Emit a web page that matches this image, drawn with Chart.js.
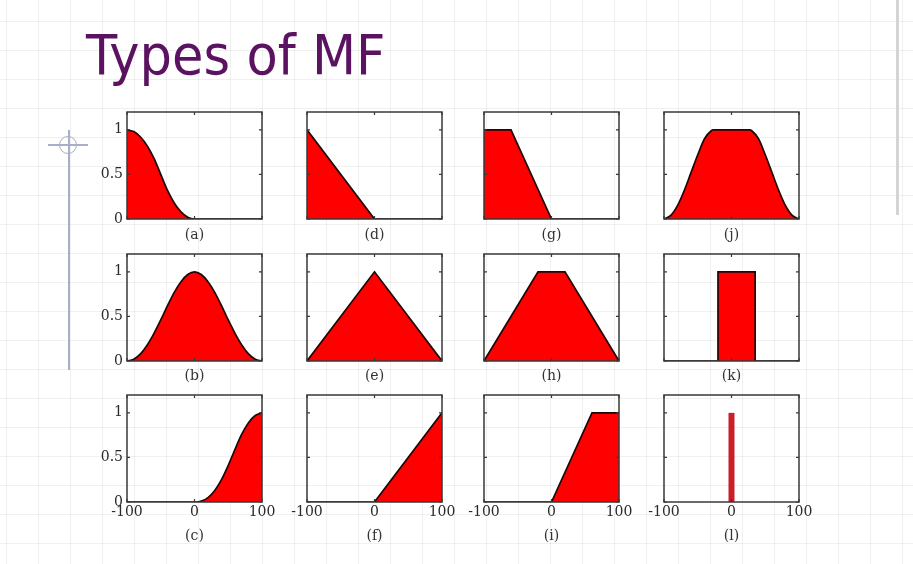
<!DOCTYPE html>
<html>
<head>
<meta charset="utf-8">
<script src="https://cdn.jsdelivr.net/npm/chart.js@4.4.6/dist/chart.umd.min.js"></script>
<style>
html, body { margin: 0; padding: 0; }
body {
  width: 913px; height: 564px; position: relative; overflow: hidden;
  background-color: #fff;
  background-image:
    linear-gradient(to right, rgba(0,0,0,0.06) 1px, transparent 1px),
    linear-gradient(to bottom, rgba(0,0,0,0.06) 1px, transparent 1px);
  background-size: 32px 29px;
  background-position: 6px 21px;
}
#title {
  position: absolute; left: 86px; top: 28px;
  font: 55px "DejaVu Sans"; line-height: 1; color: #5b1361;
  transform: scaleX(0.93); transform-origin: 0 0; white-space: nowrap;
}
.panel { position: absolute; }
.deco { position: absolute; background: #a7b0c8; }
#ring { position: absolute; left: 59px; top: 136px; width: 16px; height: 16px;
  border: 1.5px solid #a7b0c8; border-radius: 50%; }
</style>
</head>
<body>
<div id="title">Types of MF</div>
<div class="deco" style="left:48px;top:144px;width:40px;height:1.5px"></div>
<div class="deco" style="left:68px;top:130px;width:1.5px;height:240px"></div>
<div id="ring"></div>
<div class="deco" style="left:896px;top:0;width:3px;height:215px;background:#d4d4d4"></div>
<script>
// axis ticks shared by every panel
const X_TICKS = [-100, 0, 100];
const Y_TICKS = [0, 0.5, 1];

// membership functions, [x, mu]
const mfA = [[-100,1],[-90,0.98],[-80,0.92],[-70,0.82],[-60,0.68],[-50,0.5],[-40,0.32],[-30,0.18],[-20,0.08],[-10,0.02],[0,0],[100,0]];
const mfB = [[-100,0],[-90,0.02],[-80,0.08],[-70,0.18],[-60,0.31],[-50,0.46],[-40,0.62],[-30,0.77],[-20,0.89],[-10,0.97],[0,1],
             [10,0.97],[20,0.89],[30,0.77],[40,0.62],[50,0.46],[60,0.31],[70,0.18],[80,0.08],[90,0.02],[100,0]];
const mfC = [[-100,0],[2,0],[10,0.01],[20,0.05],[30,0.13],[40,0.25],[50,0.41],[55,0.5],[60,0.59],[70,0.76],[80,0.89],[90,0.97],[100,1]];
const mfD = [[-100,1],[0,0],[100,0]];
const mfE = [[-100,0],[0,1],[100,0]];
const mfF = [[-100,0],[0,0],[100,1]];
const mfG = [[-100,1],[-60,1],[0,0],[100,0]];
const mfH = [[-100,0],[-20,1],[20,1],[100,0]];
const mfI = [[-100,0],[0,0],[60,1],[100,1]];
const mfJ = [[-100,0],[-90,0.04],[-80,0.15],[-70,0.32],[-60,0.52],[-50,0.72],[-40,0.9],[-30,0.99],[-27,1],
             [27,1],[30,0.99],[40,0.9],[50,0.72],[60,0.52],[70,0.32],[80,0.15],[90,0.04],[100,0]];
const mfK = [[-100,0],[-20,0],[-20,1],[35,1],[35,0],[100,0]];
const mfL = [[0,0],[0,1]];

// grid of panels, row by row
const PANELS = [
  [{label:'(a)', data:mfA, smooth:true}, {label:'(d)', data:mfD}, {label:'(g)', data:mfG}, {label:'(j)', data:mfJ, smooth:true}],
  [{label:'(b)', data:mfB, smooth:true}, {label:'(e)', data:mfE}, {label:'(h)', data:mfH}, {label:'(k)', data:mfK}],
  [{label:'(c)', data:mfC, smooth:true}, {label:'(f)', data:mfF}, {label:'(i)', data:mfI}, {label:'(l)', data:mfL, spike:true}]
];

// where the plot boxes sit on the slide
const COL_LEFT = [127, 307, 484, 664];
const ROW_TOP = [112, 254, 395];
const LABEL_GAP = [16, 15, 34];
const PW = 135, PH = 107, PADL = 40, PADT = 16, PADR = 20, XH = 45;

const framePlugin = {
  id: 'frame',
  afterDatasetsDraw(chart){
    const {ctx, chartArea:a, scales:{x, y}} = chart;
    ctx.save();
    ctx.strokeStyle = '#383838';
    ctx.lineWidth = 1.5;
    ctx.strokeRect(a.left, a.top, a.right - a.left, a.bottom - a.top);
    ctx.lineWidth = 1.2;
    ctx.beginPath();
    X_TICKS.forEach(v => {
      const px = x.getPixelForValue(v);
      ctx.moveTo(px, a.top); ctx.lineTo(px, a.top + 3);
      ctx.moveTo(px, a.bottom); ctx.lineTo(px, a.bottom - 3);
    });
    Y_TICKS.forEach(v => {
      const py = y.getPixelForValue(v);
      ctx.moveTo(a.left, py); ctx.lineTo(a.left + 3, py);
      ctx.moveTo(a.right, py); ctx.lineTo(a.right - 3, py);
    });
    ctx.stroke();
    ctx.restore();
  }
};

const tickFont = {family:'DejaVu Serif', size:14};

function makePanel(p, row, col){
  const box = document.createElement('div');
  box.className = 'panel';
  box.style.left = (COL_LEFT[col] - PADL) + 'px';
  box.style.top = (ROW_TOP[row] - PADT) + 'px';
  const cv = document.createElement('canvas');
  cv.width = PADL + PW + PADR;
  cv.height = PADT + PH + XH;
  box.appendChild(cv);
  document.body.appendChild(box);

  const ds = {
    data: p.data.map(([x, y]) => ({x, y})),
    pointRadius: 0,
    tension: 0,
    cubicInterpolationMode: p.smooth ? 'monotone' : 'default',
    fill: p.spike ? false : 'origin',
    backgroundColor: '#ff0000',
    borderColor: p.spike ? '#c91f2b' : '#1c0808',
    borderWidth: p.spike ? 6 : 1.7,
    borderCapStyle: 'butt'
  };

  new Chart(cv, {
    type: 'line',
    data: {datasets: [ds]},
    options: {
      responsive: false,
      animation: false,
      devicePixelRatio: 1,
      layout: {padding: {left: 0, top: PADT, right: PADR, bottom: 0}},
      plugins: {legend: {display: false}, tooltip: {enabled: false}},
      scales: {
        x: {
          type: 'linear', min: -100, max: 100,
          afterBuildTicks: s => { s.ticks = X_TICKS.map(v => ({value: v})); },
          afterFit: s => { s.height = XH; },
          grid: {display: false, drawTicks: false},
          border: {display: false},
          ticks: {display: row === 2, font: tickFont, color: '#2a2a2a', padding: 2, maxRotation: 0, autoSkip: false,
                  callback: v => String(v)},
          title: {display: true, text: p.label, color: '#333',
                  font: {family: 'DejaVu Serif', size: 14},
                  padding: {top: 0, bottom: XH - LABEL_GAP[row] - 8.4}}
        },
        y: {
          type: 'linear', min: 0, max: 1.2,
          afterBuildTicks: s => { s.ticks = Y_TICKS.map(v => ({value: v})); },
          afterFit: s => { s.width = PADL; },
          grid: {display: false, drawTicks: false},
          border: {display: false},
          ticks: {display: col === 0, font: tickFont, color: '#2a2a2a', padding: 4,
                  callback: v => String(v)}
        }
      }
    },
    plugins: [framePlugin]
  });
}

PANELS.forEach((r, ri) => r.forEach((p, ci) => makePanel(p, ri, ci)));
</script>
</body>
</html>
